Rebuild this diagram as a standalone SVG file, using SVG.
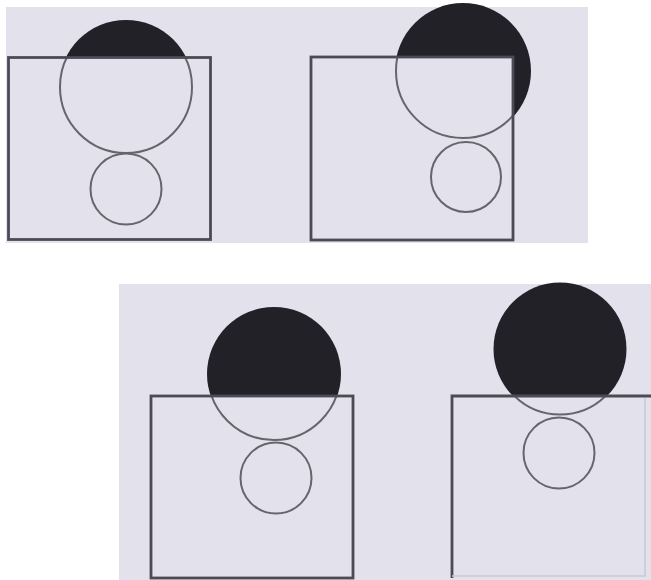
<svg xmlns="http://www.w3.org/2000/svg" width="651" height="580" viewBox="0 0 651 580">
  <style>
    .paper { fill: #e3e2ec; }
    .box-fill { fill: #e3e2ec; stroke: none; }
    .box { fill: none; stroke: #4c4b55; stroke-width: 2.8; }
    .ring { fill: none; stroke: #66656d; stroke-width: 2; }
    .dark { fill: #222127; stroke: none; }
  </style>
  <defs>
    <clipPath id="c1"><rect x="8.5" y="57.5" width="202" height="182"/></clipPath>
    <clipPath id="c2"><rect x="311" y="57" width="202" height="183"/></clipPath>
    <clipPath id="c3"><rect x="151" y="396" width="202" height="182"/></clipPath>
    <clipPath id="c4"><rect x="452" y="396" width="199" height="182"/></clipPath>
  </defs>
  <rect width="651" height="580" fill="#ffffff"/>
  <rect class="paper" x="6" y="7" width="582" height="236"/>
  <rect class="paper" x="119" y="284" width="532" height="296"/>

  <g id="panel1">
    <circle class="dark" cx="126" cy="87" r="67"/>
    <rect class="box-fill" x="8.5" y="57.5" width="202" height="182"/>
    <circle class="ring" cx="126" cy="87" r="66" clip-path="url(#c1)"/>
    <circle class="ring" cx="126" cy="189" r="35.5"/>
    <rect class="box" x="8.5" y="57.5" width="202" height="182"/>
  </g>

  <g id="panel2">
    <circle class="dark" cx="463" cy="71" r="68"/>
    <rect class="box-fill" x="311" y="57" width="202" height="183"/>
    <circle class="ring" cx="463" cy="71" r="67" clip-path="url(#c2)"/>
    <circle class="ring" cx="466" cy="177" r="35"/>
    <rect class="box" x="311" y="57" width="202" height="183"/>
  </g>

  <g id="panel3">
    <circle class="dark" cx="274" cy="374" r="67"/>
    <rect class="box-fill" x="151" y="396" width="202" height="182"/>
    <circle class="ring" cx="274" cy="374" r="66" clip-path="url(#c3)"/>
    <circle class="ring" cx="276" cy="478" r="35.5"/>
    <rect class="box" x="151" y="396" width="202" height="182"/>
  </g>

  <g id="panel4">
    <circle class="dark" cx="560" cy="349" r="66.5"/>
    <rect class="box-fill" x="452" y="396" width="199" height="182"/>
    <circle class="ring" cx="560" cy="349" r="65.5" clip-path="url(#c4)"/>
    <circle class="ring" cx="559" cy="453" r="35.5"/>
    <path class="box" d="M452,578 V396 H651"/>
    <path d="M645,398 V576 H452" fill="none" stroke="#c9c8d2" stroke-width="1.5"/>
  </g>
</svg>
